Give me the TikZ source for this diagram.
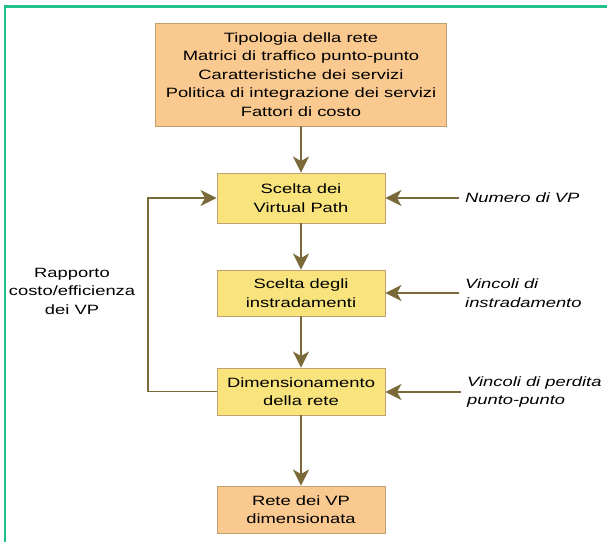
\documentclass[tikz,border=0pt]{standalone}
\usepackage{fontspec}
\setmainfont{Liberation Sans}[FakeStretch=1.36]
\usetikzlibrary{arrows.meta}
\definecolor{frameGreen}{HTML}{22C08E}
\definecolor{boxOrange}{HTML}{F9C98F}
\definecolor{boxYellow}{HTML}{F8E37C}
\definecolor{boxEdge}{HTML}{BFA070}
\definecolor{connCol}{HTML}{7A6A3A}
\tikzset{
  basefont/.style={font=\fontsize{13.5}{18.5}\selectfont},
  obox/.style={basefont, draw=boxEdge, line width=0.9pt, fill=boxOrange, align=center, inner sep=0pt, minimum width=168pt},
  ybox/.style={basefont, draw=boxEdge, line width=0.9pt, fill=boxYellow, align=center, inner sep=0pt, minimum width=168pt},
  rlabel/.style={basefont, font=\fontsize{13.5}{18.5}\selectfont\itshape, align=left, anchor=west, inner sep=6pt},
  llabel/.style={basefont, align=center, inner sep=2pt},
  conn/.style={draw=connCol, line width=1.8pt, -{Stealth[length=16pt,width=16pt,inset=4.5pt]}},
}
\begin{document}
\begin{tikzpicture}[x=1pt,y=-1pt]
\useasboundingbox (0,0) rectangle (607,542);
\fill[white] (0,0) rectangle (607,542);
% green frame
\draw[frameGreen, line width=2.2pt] (5,542) -- (5,6.5) -- (607,6.5);

% boxes
\node[obox, minimum width=291pt, minimum height=103pt] (top) at (301,74.5)
  {Tipologia della rete\\Matrici di traffico punto-punto\\Caratteristiche dei servizi\\Politica di integrazione dei servizi\\Fattori di costo};
\node[ybox, minimum height=50pt] (b2) at (301,198) {Scelta dei\\Virtual Path};
\node[ybox, minimum height=46pt] (b3) at (301,293) {Scelta degli\\instradamenti};
\node[ybox, minimum height=47pt] (b4) at (301,391.5) {Dimensionamento\\della rete};
\node[obox, minimum height=47pt] (b5) at (301,509.5) {Rete dei VP\\dimensionata};

% side labels
\node[rlabel] (r1) at (459,198) {Numero di VP};
\node[rlabel] (r2) at (459,293) {Vincoli di\\instradamento};
\node[rlabel] (r3) at (461,392) {Vincoli di perdita\\punto-punto};
\node[llabel] (l1) at (72,291) {Rapporto\\costo/efficienza\\dei VP};

% main flow
\draw[conn] (top.south) -- (b2.north);
\draw[conn] (b2.south) -- (b3.north);
\draw[conn] (b3.south) -- (b4.north);
\draw[conn] (b4.south) -- (b5.north);

% inputs
\draw[conn] (r1.west) -- (r1.west -| b2.east);
\draw[conn] (r2.west) -- (r2.west -| b3.east);
\draw[conn] (r3.west) -- (r3.west -| b4.east);

% feedback loop
\coordinate (fbx) at (148,300);
\draw[conn] (b4.west) -- (fbx |- b4.west) -- (fbx |- b2.west) -- (b2.west);
\end{tikzpicture}
\end{document}
